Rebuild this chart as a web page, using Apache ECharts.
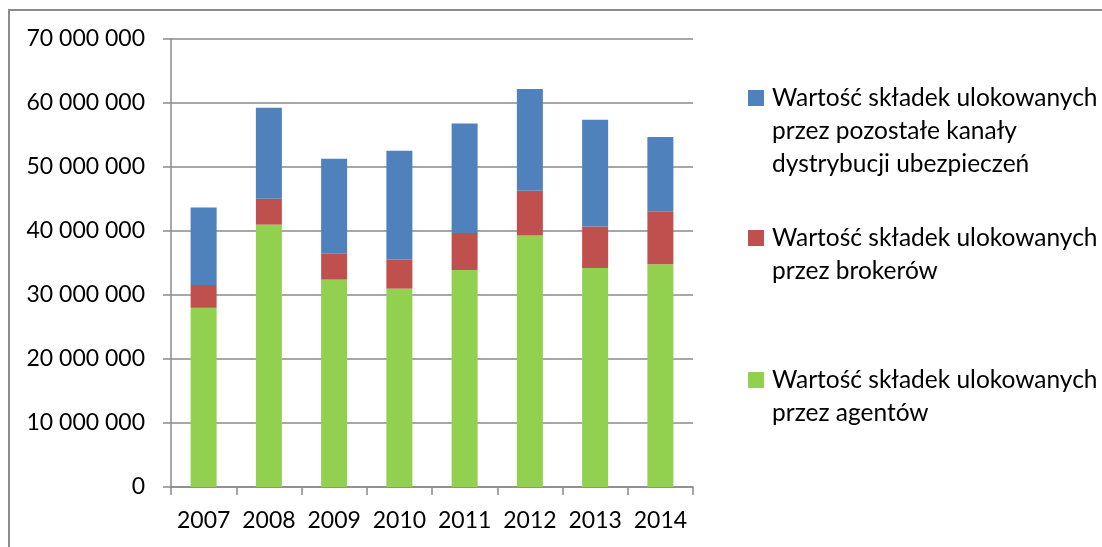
<!DOCTYPE html>
<html>
<head>
<meta charset="utf-8">
<script src="https://cdn.jsdelivr.net/npm/echarts@6/dist/echarts.min.js"></script>
<style>
  html, body { margin: 0; padding: 0; background: #fff; }
  #chart { width: 1102px; height: 547px; }
</style>
</head>
<body>
<div id="chart"></div>
<script>
// dane
const years = ['2007', '2008', '2009', '2010', '2011', '2012', '2013', '2014'];
const agenci = [28000000, 41000000, 32400000, 31000000, 33900000, 39300000, 34200000, 34800000];
const brokerzy = [3560000, 4050000, 4100000, 4500000, 5800000, 7000000, 6500000, 8300000];
const pozostale = [12100000, 14200000, 14800000, 17050000, 17100000, 15900000, 16700000, 11600000];

const nameAgenci = 'Wartość składek ulokowanych\nprzez agentów';
const nameBrokerzy = 'Wartość składek ulokowanych\nprzez brokerów';
const namePozostale = 'Wartość składek ulokowanych\nprzez pozostałe kanały\ndystrybucji ubezpieczeń';

const FONT = 'Lato, "Open Sans", sans-serif';
const GRID_COLOR = '#8a8a8a';
const LINE_H = 33;
const SQ = 16;
const ICON_W = 19;

function fmt(v) {
    return String(v).replace(/\B(?=(\d{3})+(?!\d))/g, ' ');
}

// ikona: kwadrat przy pierwszej linii, wysokość całego bloku tekstu
function legendIcon(lines) {
    const h = lines * LINE_H;
    const y0 = (LINE_H - SQ) / 2;
    return 'path://M0,' + y0 + 'L' + SQ + ',' + y0 + 'L' + SQ + ',' + (y0 + SQ) + 'L0,' + (y0 + SQ) + 'Z' +
        'M0,0L' + ICON_W + ',0M0,' + h + 'L' + ICON_W + ',' + h;
}

function legendBox(name, lines, firstLineY) {
    return {
        data: [{ name: name, icon: legendIcon(lines) }],
        orient: 'vertical',
        left: 748,
        top: firstLineY - LINE_H / 2,
        padding: 0,
        itemWidth: ICON_W,
        itemHeight: lines * LINE_H,
        itemGap: 0,
        selectedMode: false,
        textStyle: {
            fontFamily: FONT,
            fontSize: 24.5,
            color: '#000',
            lineHeight: LINE_H
        }
    };
}

let chart = echarts.init(document.getElementById('chart'));

let option = {
    animation: false,
    grid: {
        left: 171,
        right: 409,
        top: 39,
        bottom: 60
    },
    legend: [
        legendBox(namePozostale, 3, 98),
        legendBox(nameBrokerzy, 2, 238),
        legendBox(nameAgenci, 2, 380)
    ],
    xAxis: {
        type: 'category',
        data: years,
        axisLine: { lineStyle: { color: GRID_COLOR, width: 1.5 } },
        axisTick: { show: true, length: 8, lineStyle: { color: GRID_COLOR, width: 1.5 } },
        axisLabel: { interval: 0, fontFamily: FONT, fontSize: 23, color: '#000', margin: 22 }
    },
    yAxis: {
        type: 'value',
        min: 0,
        max: 70000000,
        interval: 10000000,
        axisLine: { show: true, lineStyle: { color: GRID_COLOR, width: 1.5 } },
        axisTick: { show: true, length: 8, lineStyle: { color: GRID_COLOR, width: 1.5 } },
        splitLine: { lineStyle: { color: GRID_COLOR, width: 1.5 } },
        axisLabel: { fontFamily: FONT, fontSize: 23, color: '#000', margin: 26, formatter: fmt }
    },
    series: [
        {
            name: nameAgenci,
            type: 'bar',
            stack: 'total',
            barWidth: 26,
            itemStyle: { color: '#92d050' },
            data: agenci
        },
        {
            name: nameBrokerzy,
            type: 'bar',
            stack: 'total',
            barWidth: 26,
            itemStyle: { color: '#c0504d' },
            data: brokerzy
        },
        {
            name: namePozostale,
            type: 'bar',
            stack: 'total',
            barWidth: 26,
            itemStyle: { color: '#4f81bd' },
            data: pozostale
        }
    ],
    graphic: [
        {
            type: 'rect',
            shape: { x: 9, y: 10, width: 1200, height: 700 },
            style: { fill: 'none', stroke: '#8c8c8c', lineWidth: 2 },
            silent: true
        }
    ]
};

chart.setOption(option);
</script>
</body>
</html>
